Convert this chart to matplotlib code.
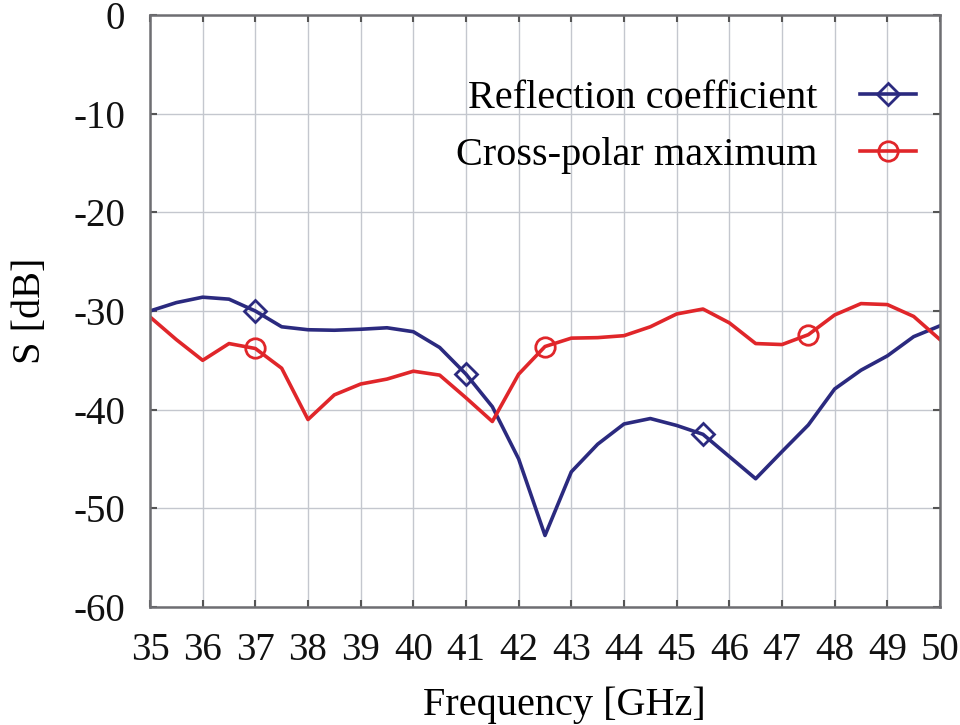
import numpy as np # importar numpy para manejar los arreglos
import matplotlib
matplotlib.use('Agg')
import matplotlib.pyplot as plt # importar matplotlib para la gráfica

# Frecuencias en GHz, paso de 0.5
frecuencias = [35, 35.5, 36, 36.5, 37, 37.5, 38, 38.5, 39, 39.5, 40, 40.5, 41, 41.5,
               42, 42.5, 43, 43.5, 44, 44.5, 45, 45.5, 46, 46.5, 47, 47.5, 48, 48.5,
               49, 49.5, 50]

# Coeficiente de reflexión [dB]
reflexion = [-30.0, -29.15, -28.6, -28.8, -30.0, -31.6, -31.9, -31.95, -31.85, -31.7,
             -32.1, -33.7, -36.4, -39.7, -45.0, -52.75, -46.3, -43.5, -41.45, -40.9,
             -41.6, -42.5, -44.75, -47.0, -44.25, -41.55, -37.9, -36.0, -34.55, -32.6,
             -31.5]

# Máximo de polarización cruzada [dB]
polar_cruzada = [-30.6, -32.9, -35.0, -33.3, -33.8, -35.8, -41.0, -38.5, -37.4, -36.9,
                 -36.1, -36.5, -38.8, -41.2, -36.4, -33.6, -32.75, -32.7, -32.5, -31.6,
                 -30.3, -29.8, -31.2, -33.3, -33.4, -32.4, -30.4, -29.25, -29.35, -30.55,
                 -32.9]

marcas_reflexion = [4, 12, 21] # puntos con marcador (37, 41, 45.5 GHz)
marcas_polar = [4, 15, 25] # puntos con marcador (37, 42.5, 47.5 GHz)

x_ticks = np.arange(35, 51, 1)
y_ticks = np.arange(-60, 1, 10)

plt.rcParams['font.family'] = ['Liberation Serif', 'DejaVu Serif']
plt.rcParams['axes.unicode_minus'] = False # guion simple en los negativos

fig = plt.figure(figsize=(9.6, 7.25), dpi=100)
ax = fig.add_axes([150/960, 1 - 607/725, 790/960, 592/725])

azul = '#2b2a7f'
rojo = '#e0262a'

ax.plot(frecuencias, reflexion, color=azul, lw=2.6, marker='D', ms=11.5,
        mfc='none', mec=azul, mew=2.0, markevery=marcas_reflexion,
        label='Reflection coefficient')
ax.plot(frecuencias, polar_cruzada, color=rojo, lw=2.6, marker='o', ms=14,
        mfc='none', mec=rojo, mew=2.0, markevery=marcas_polar,
        label='Cross-polar maximum')

ax.set_xlim(35, 50)
ax.set_ylim(-60, 0)
ax.set_xticks(x_ticks)
ax.set_yticks(y_ticks)
ax.grid(True, color='#c4c7ce', lw=1.0)
ax.set_axisbelow(True)

for lado in ax.spines.values():
    lado.set_color('#6e6e72')
    lado.set_linewidth(1.8)

ax.tick_params(direction='in', length=5, width=1.5, top=True, right=True,
               labelsize=28, labelcolor='#111111', color='#555555')
ax.tick_params(axis='x', pad=18)
ax.tick_params(axis='y', pad=18)

ax.set_xlabel('Frequency [GHz]', fontsize=29)
ax.set_ylabel('S [dB]', fontsize=29)
ax.xaxis.set_label_coords(0.525, -0.134)
ax.yaxis.set_label_coords(-0.128, 0.5)

leg = ax.legend(loc='upper right', bbox_to_anchor=(0.99, 0.918), frameon=False,
                fontsize=29, markerfirst=False, numpoints=1, handlelength=1.4,
                handletextpad=1.05, labelspacing=0.5, borderaxespad=0)

plt.savefig('out.png', dpi=100)
